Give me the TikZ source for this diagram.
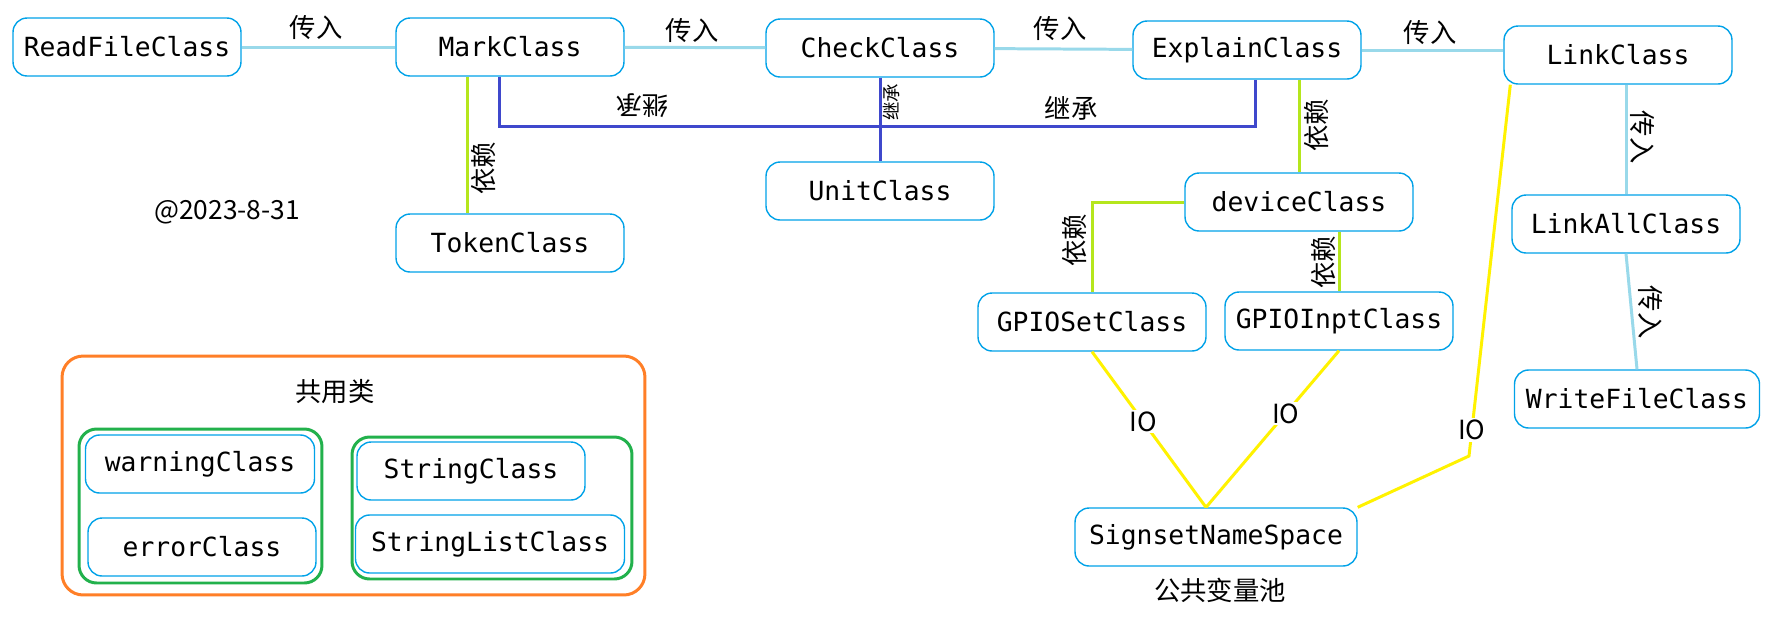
\documentclass[tikz,border=0pt]{standalone}
\usepackage{fontspec}
\setmonofont{DejaVu Sans Mono}
\newfontfamily\cjk{Noto Sans CJK SC}
\definecolor{nodeblue}{HTML}{00A2E8}
\definecolor{passblue}{HTML}{99D9EA}
\definecolor{inhblue}{HTML}{3F48CC}
\definecolor{depgreen}{HTML}{B5E61D}
\definecolor{ioyellow}{HTML}{FFF200}
\definecolor{grpgreen}{HTML}{22B14C}
\definecolor{grporange}{HTML}{FF7F27}
\tikzset{
  cls/.style={draw=nodeblue, line width=0.8pt, rounded corners=8pt, minimum width=4.56cm,
    minimum height=1.16cm, inner sep=0pt, font=\ttfamily\fontsize{15}{18}\selectfont},
  lbl/.style={font=\cjk\fontsize{15}{18}\selectfont, inner sep=1pt},
  iolbl/.style={lbl, fill=white},
  pass/.style={draw=passblue, line width=1.7pt},
  inh/.style={draw=inhblue, line width=1.7pt},
  dep/.style={draw=depgreen, line width=1.7pt},
  io/.style={draw=ioyellow, line width=1.7pt},
  grp/.style={draw=grpgreen, line width=1.7pt, rounded corners=10pt, inner sep=0pt},
}
\begin{document}
\begin{tikzpicture}[x=0.02cm, y=-0.02cm]
    \path[fill=white, use as bounding box] (0,0) rectangle (1771,630);
    % top row
    \node[cls] (readfile) at (127,47) {ReadFileClass};
    \node[cls] (mark) at (510,47) {MarkClass};
    \node[cls] (check) at (880,48) {CheckClass};
    \node[cls] (explain) at (1247,50) {ExplainClass};
    \node[cls] (link) at (1618,55) {LinkClass};
    \node[cls] (unit) at (880,191) {UnitClass};
    \node[cls] (token) at (510,243) {TokenClass};
    \node[cls] (device) at (1299,202) {deviceClass};
    \node[cls] (gpioset) at (1092,322) {GPIOSetClass};
    \node[cls] (gpioinpt) at (1339,321) {GPIOInptClass};
    \node[cls, minimum width=5.64cm] (signset) at (1216,537) {SignsetNameSpace};
    \node[cls] (linkall) at (1626,224) {LinkAllClass};
    \node[cls, minimum width=4.9cm] (writefile) at (1637,399) {WriteFileClass};
    \node[lbl] (pool) at (1220,590) {公共变量池};
    \node[lbl, font=\cjk\fontsize{15}{18}\selectfont] (date) at (227,212) {@2023-8-31};
    % common classes
    \node[draw=grporange, line width=1.7pt, rounded corners=12pt, minimum width=11.66cm,
      minimum height=4.78cm] (common) at (353.5,475.5) {};
    \node[lbl] (commontitle) at (335,392) {共用类};
    \node[grp, minimum width=4.86cm, minimum height=3.08cm] (grpa) at (200.5,506) {};
    \node[grp, minimum width=5.6cm, minimum height=2.84cm] (grpb) at (492,508) {};
    \node[cls, minimum width=4.58cm] (warning) at (200,464) {warningClass};
    \node[cls] (error) at (202,547) {errorClass};
    \node[cls] (string) at (471,471) {StringClass};
    \node[cls, minimum width=5.38cm] (stringlist) at (490,544) {StringListClass};
    % pass lines
    \draw[pass] (readfile) -- (mark);
    \draw[pass] (mark) -- (check);
    \draw[pass] (check) -- (explain);
    \draw[pass] (explain.east) -- (link.west |- explain.east);
    \draw[pass] (link.south -| linkall.north) -- (linkall.north);
    \draw[pass] (linkall.south) -- (writefile.north);
    \node[lbl] (in1) at (316,28) {传入};
    \node[lbl] (in2) at (692,31) {传入};
    \node[lbl] (in3) at (1060,29) {传入};
    \node[lbl] (in4) at (1430,33) {传入};
    \node[lbl, rotate=-90] (in5) at (1642,137) {传入};
    \node[lbl, rotate=-90] (in6) at (1650,312) {传入};
    % inheritance
    \coordinate (inhy) at (0,126);
    \coordinate (ml) at ([xshift=-0.22cm]mark.south);
    \coordinate (er) at ([xshift=0.16cm]explain.south);
    \draw[inh] (ml) |- (inhy -| er) -- (er);
    \draw[inh] (check.south) -- (unit.north);
    \node[lbl, rotate=180] (inh1) at (642,106) {继承};
    \node[lbl, rotate=90, font=\cjk\fontsize{10.5}{12}\selectfont] (inh2) at (891,102) {继承};
    \node[lbl] (inh3) at (1071,108) {继承};
    % dependencies
    \draw[dep] ([xshift=-0.86cm]mark.south) -- ([xshift=-0.86cm]token.north);
    \draw[dep] (explain.south -| device.north) -- (device.north);
    \draw[dep] (device.west) -| (gpioset.north);
    \draw[dep] (device.south -| gpioinpt.north) -- (gpioinpt.north);
    \node[lbl, rotate=90] (dep1) at (484,168) {依赖};
    \node[lbl, rotate=90] (dep2) at (1317,125) {依赖};
    \node[lbl, rotate=90] (dep3) at (1075,240) {依赖};
    \node[lbl, rotate=90] (dep4) at (1324,262) {依赖};
    % io
    \coordinate (iobend) at (1469,456);
    \draw[io] (gpioset.south) -- node[iolbl, pos=.45] (io1) {IO} ([xshift=-0.2cm]signset.north);
    \draw[io] (gpioinpt.south) -- node[iolbl, pos=.4] (io2) {IO} ([xshift=-0.2cm]signset.north);
    \draw[io] ([xshift=0.14cm]link.south west) -- node[iolbl, pos=.93] (io3) {IO} (iobend)
      -- (signset.north east);
  \end{tikzpicture}
\end{document}
